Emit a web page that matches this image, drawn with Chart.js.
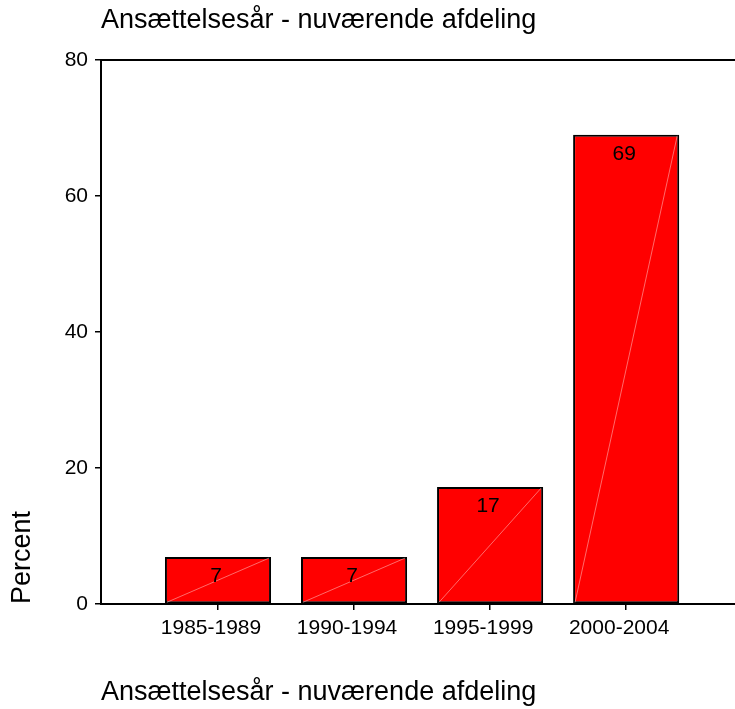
<!DOCTYPE html>
<html>
<head>
<meta charset="utf-8">
<script src="https://cdn.jsdelivr.net/npm/chart.js@4/dist/chart.umd.min.js"></script>
<style>
  body { margin: 0; background: #fff; }
  canvas { display: block; }
</style>
</head>
<body>
<canvas id="grafico" width="735" height="709"></canvas>
<script>
// data
const categories = ['1985-1989', '1990-1994', '1995-1999', '2000-2004'];
const percent = [6.9, 6.9, 17.2, 69.0];
const yTicks = [0, 20, 40, 60, 80];
const chartTitle = 'Ansættelsesår - nuværende afdeling';
const yTitle = 'Percent';

const fontFam = "'Liberation Sans', Arial, sans-serif";

// bars sit at 1..n on a linear x axis
const puntos = percent.map(function (v, i) { return { x: i + 1, y: v }; });

// top frame line, diagonal stroke in each bar and value labels
const extras = {
    id: 'extras',
    afterDatasetsDraw: function (chart) {
        const ctx = chart.ctx;
        const area = chart.chartArea;
        ctx.save();
        ctx.strokeStyle = '#000';
        ctx.lineWidth = 2;
        ctx.beginPath();
        ctx.moveTo(area.left - 1, area.top);
        ctx.lineTo(area.right, area.top);
        ctx.stroke();

        const meta = chart.getDatasetMeta(0);
        meta.data.forEach(function (bar, i) {
            const half = bar.width / 2;
            ctx.strokeStyle = 'rgba(255,190,190,0.8)';
            ctx.lineWidth = 0.7;
            ctx.beginPath();
            ctx.moveTo(bar.x - half + 2, bar.base - 1);
            ctx.lineTo(bar.x + half - 2, bar.y + 1);
            ctx.stroke();

            ctx.fillStyle = '#000';
            ctx.font = '21px ' + fontFam;
            ctx.textAlign = 'center';
            ctx.textBaseline = 'top';
            ctx.fillText(String(Math.round(percent[i])), bar.x - 2, bar.y + 9);
        });
        ctx.restore();
    }
};

const ctx = document.getElementById('grafico').getContext('2d');
const grafico = new Chart(ctx, {
    type: 'bar',
    data: {
        datasets: [{
            label: yTitle,
            data: puntos,
            backgroundColor: '#ff0000',
            borderColor: '#000',
            borderWidth: 2,
            borderSkipped: false,
            barPercentage: 0.78,
            categoryPercentage: 1
        }]
    },
    options: {
        responsive: false,
        animation: false,
        layout: { padding: 0 },
        plugins: {
            legend: { display: false },
            tooltip: { enabled: false },
            title: {
                display: true,
                text: chartTitle,
                align: 'start',
                fullSize: false,
                color: '#000',
                font: { family: fontFam, size: 27, weight: 'normal' },
                padding: { top: 4, bottom: 23.6 }
            }
        },
        scales: {
            x: {
                type: 'linear',
                offset: false,
                min: 0.14,
                max: 4.8,
                afterBuildTicks: function (scale) {
                    scale.ticks = categories.map(function (c, i) { return { value: i + 1 }; });
                },
                afterFit: function (scale) { scale.height = 105; },
                ticks: {
                    color: '#000',
                    padding: 6,
                    labelOffset: -7,
                    maxRotation: 0,
                    autoSkip: false,
                    font: { family: fontFam, size: 21 },
                    callback: function (v) { return categories[v - 1]; }
                },
                grid: {
                    display: true,
                    offset: false,
                    drawOnChartArea: false,
                    drawTicks: true,
                    tickLength: 6,
                    color: '#000',
                    lineWidth: 1.5
                },
                border: { display: true, color: '#000', width: 2 },
                title: {
                    display: true,
                    text: chartTitle,
                    align: 'start',
                    color: '#000',
                    font: { family: fontFam, size: 27 },
                    padding: { top: 0, bottom: 0 }
                }
            },
            y: {
                min: 0,
                max: 80,
                afterBuildTicks: function (scale) {
                    scale.ticks = yTicks.map(function (v) { return { value: v }; });
                },
                afterFit: function (scale) { scale.width = 101; },
                ticks: {
                    color: '#000',
                    padding: 7,
                    font: { family: fontFam, size: 21 }
                },
                grid: {
                    display: true,
                    drawOnChartArea: false,
                    drawTicks: true,
                    tickLength: 6,
                    color: '#000',
                    lineWidth: 1.5
                },
                border: { display: true, color: '#000', width: 2 },
                title: {
                    display: true,
                    text: yTitle,
                    align: 'start',
                    color: '#000',
                    font: { family: fontFam, size: 27 },
                    padding: { top: 6, bottom: 0 }
                }
            }
        }
    },
    plugins: [extras]
});
</script>
</body>
</html>
